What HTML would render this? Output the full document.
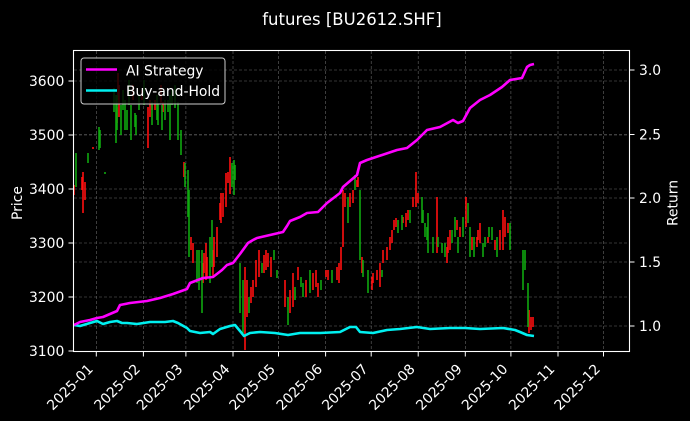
<!DOCTYPE html>
<html>
<head>
<meta charset="utf-8">
<style>
html,body{margin:0;padding:0;background:#000;}
svg{display:block;}
text{font-family:"DejaVu Sans","Liberation Sans",sans-serif;fill:#fff;}
</style>
</head>
<body>
<svg width="690" height="421" viewBox="0 0 690 421" xmlns="http://www.w3.org/2000/svg">
<rect x="0" y="0" width="690" height="421" fill="#000"/>

<!-- title -->
<text x="352" y="25" font-size="16.5" text-anchor="middle">futures [BU2612.SHF]</text>

<!-- grid -->
<g stroke="#666" stroke-width="0.6" stroke-dasharray="3,2" fill="none">
  <path d="M96.3 51V351M143.4 51V351M185.9 51V351M233 51V351M278.5 51V351M325.6 51V351M371.2 51V351M418.2 51V351M465.3 51V351M510.9 51V351M558 51V351M603.5 51V351"/>
  <path d="M74 81H629M74 135H629M74 189H629M74 243H629M74 297H629"/>
  <path d="M74 70H629M74 134.5H629M74 198H629M74 262H629M74 326H629"/>
</g>

<!-- candles -->
<g fill="none" stroke-width="1.6">
<path stroke="#ff1010" d="M74 185V195M82 177V190M83 172V213M85 182V200M93 147V149M117 107V123M118 73V100M119 85V117M133 85V100M142 90V100M148 107V148M150 100V117M152 105V110M155 100V110M161 85V103M163 102V112M184 162V177M191 237V250M193 243V263M203 263V283M204 253V273M206 243V280M207 257V277M213 250V277M214 237V267M217 227V257M220 203V220M221 193V223M223 193V217M226 173V207M228 172V183M230 157V194M245 267V350M247 280V317M251 287V303M253 280V297M256 260V287M259 250V277M264 255V273M266 250V270M268 253V267M271 257V277M285 280V307M290 290V313M293 273V307M298 267V280M306 280V297M313 273V290M316 270V287M318 283V297M326 270V277M328 270V280M337 267V280M339 263V283M341 247V270M343 190V247M345 193V207M350 193V207M353 190V203M357 180V187M358 177V187M362 257V273M372 277V290M373 273V283M377 270V280M380 263V287M383 250V263M387 247V260M390 237V250M392 230V243M394 220V230M396 218V227M403 217V223M406 213V227M408 210V220M413 197V207M416 172V207M418 193V203M437 197V253M447 247V263M448 237V253M450 230V250M457 220V230M460 227V237M466 197V227M472 237V250M477 237V247M478 230V240M480 223V243M488 237V243M495 240V250M500 230V250M503 210V250M505 217V237M508 223V233M529 310V333M531 317V330M533 317V327"/>
<path stroke="#10a810" d="M76 153V187M88 153V163M99 127V150M100 130V148M105 172V174M114 88V112M116 95V143M117 95V130M121 105V135M123 90V110M125 100V130M127 110V130M129 80V105M131 105V140M135 113V127M136 115V135M139 95V110M144 80V105M152 102V125M157 95V120M158 103V125M162 105V130M165 100V120M168 100V112M170 95V140M172 90V105M175 85V108M178 102V140M181 130V155M185 163V187M188 170V217M189 190V257M197 250V283M199 250V290M202 250V313M210 237V283M212 220V267M232 163V187M234 160V195M235 165V180M240 263V313M243 280V333M249 297V313M262 263V273M274 250V260M277 270V278M288 297V325M295 287V300M301 277V287M303 283V297M310 270V293M321 280V290M332 270V283M348 197V223M355 175V190M360 190V260M363 260V277M368 270V293M382 270V277M398 220V233M402 215V230M410 210V223M422 197V223M423 210V223M425 223V237M427 227V240M428 213V253M433 237V253M438 237V247M442 243V253M445 243V257M452 230V243M455 217V237M458 237V253M463 217V237M468 203V223M470 227V257M474 237V257M483 243V257M485 237V247M489 227V237M492 227V240M497 237V257M510 223V250M523 250V290M525 250V270M528 283V327"/>
</g>

<!-- Buy-and-Hold -->
<polyline fill="none" stroke="#00f0f0" stroke-width="2.6" stroke-linejoin="round" points="74,325 80,326 90,323 97,321 103,324 110,322 117,321 122,323 127,323 137,324 150,322 165,322 173,321 178,323 187,328 190,331 200,333 210,332 213,334 220,329 230,326 235,325 240,331 244,336 250,333 260,332 275,333 288,335 300,333 320,333 340,332 350,327 356,327 360,332 373,333 387,330 400,329 417,327 430,329 450,328 465,328 480,329 503,328 515,330 520,332 527,335 534,336"/>

<!-- AI Strategy -->
<polyline fill="none" stroke="#ff00ff" stroke-width="2.6" stroke-linejoin="round" points="74,325 80,322 90,320 97,318 103,317 110,314 117,311 120,305 130,303 147,301 160,298 173,294 187,289 190,283 203,278 213,277 222,270 227,265 233,263 240,254 248,243 253,240 257,238 270,235 283,232 287,226 290,221 300,217 307,213 318,212 327,203 340,193 343,187 350,181 357,175 360,163 367,160 373,158 397,150 407,148 417,140 427,130 440,127 453,120 458,123 463,121 470,108 480,100 490,95 502,87 510,80 522,78 527,67 530,65 534,64"/>

<!-- axes frame -->
<rect x="73.5" y="50.5" width="556" height="301" fill="none" stroke="#fff" stroke-width="1.1"/>

<!-- ticks -->
<g stroke="#fff" stroke-width="1">
  <path d="M68.5 81H73.5M68.5 135H73.5M68.5 189H73.5M68.5 243H73.5M68.5 297H73.5M68.5 351H73.5"/>
  <path d="M629.5 70H634.5M629.5 134.5H634.5M629.5 198H634.5M629.5 262H634.5M629.5 326H634.5"/>
  <path d="M96.3 351.5V356.5M143.4 351.5V356.5M185.9 351.5V356.5M233 351.5V356.5M278.5 351.5V356.5M325.6 351.5V356.5M371.2 351.5V356.5M418.2 351.5V356.5M465.3 351.5V356.5M510.9 351.5V356.5M558 351.5V356.5M603.5 351.5V356.5"/>
</g>
<g font-size="13.9" text-anchor="end">
  <text x="64.3" y="86">3600</text>
  <text x="64.3" y="140">3500</text>
  <text x="64.3" y="194">3400</text>
  <text x="64.3" y="248">3300</text>
  <text x="64.3" y="302">3200</text>
  <text x="64.3" y="356">3100</text>
</g>
<g font-size="13.9" text-anchor="start">
  <text x="639" y="75">3.0</text>
  <text x="639" y="139.5">2.5</text>
  <text x="639" y="203">2.0</text>
  <text x="639" y="267">1.5</text>
  <text x="639" y="331">1.0</text>
</g>

<!-- x tick labels -->
<g font-size="13.9" text-anchor="middle">
  <text x="70.1" y="387.2" dy="0.33em" transform="rotate(-45 70.1 387.2)">2025-01</text>
  <text x="117.2" y="387.2" dy="0.33em" transform="rotate(-45 117.2 387.2)">2025-02</text>
  <text x="159.7" y="387.2" dy="0.33em" transform="rotate(-45 159.7 387.2)">2025-03</text>
  <text x="206.8" y="387.2" dy="0.33em" transform="rotate(-45 206.8 387.2)">2025-04</text>
  <text x="252.3" y="387.2" dy="0.33em" transform="rotate(-45 252.3 387.2)">2025-05</text>
  <text x="299.4" y="387.2" dy="0.33em" transform="rotate(-45 299.4 387.2)">2025-06</text>
  <text x="345" y="387.2" dy="0.33em" transform="rotate(-45 345 387.2)">2025-07</text>
  <text x="392" y="387.2" dy="0.33em" transform="rotate(-45 392 387.2)">2025-08</text>
  <text x="439.1" y="387.2" dy="0.33em" transform="rotate(-45 439.1 387.2)">2025-09</text>
  <text x="484.7" y="387.2" dy="0.33em" transform="rotate(-45 484.7 387.2)">2025-10</text>
  <text x="531.8" y="387.2" dy="0.33em" transform="rotate(-45 531.8 387.2)">2025-11</text>
  <text x="577.3" y="387.2" dy="0.33em" transform="rotate(-45 577.3 387.2)">2025-12</text>
</g>

<!-- axis labels -->
<text x="17" y="203" dy="0.35em" font-size="13.9" text-anchor="middle" transform="rotate(-90 17 203)">Price</text>
<text x="672.5" y="203" dy="0.35em" font-size="13.9" text-anchor="middle" transform="rotate(-90 672.5 203)">Return</text>

<!-- legend -->
<rect x="81" y="58" width="144" height="46" rx="3" ry="3" fill="#000" fill-opacity="0.8" stroke="#cccccc" stroke-width="1"/>
<line x1="86" y1="69.5" x2="117" y2="69.5" stroke="#ff00ff" stroke-width="2.6"/>
<line x1="86" y1="90.5" x2="117" y2="90.5" stroke="#00f0f0" stroke-width="2.6"/>
<text x="126" y="75.5" font-size="13.9">AI Strategy</text>
<text x="126" y="96" font-size="13.9">Buy-and-Hold</text>
</svg>
</body>
</html>
